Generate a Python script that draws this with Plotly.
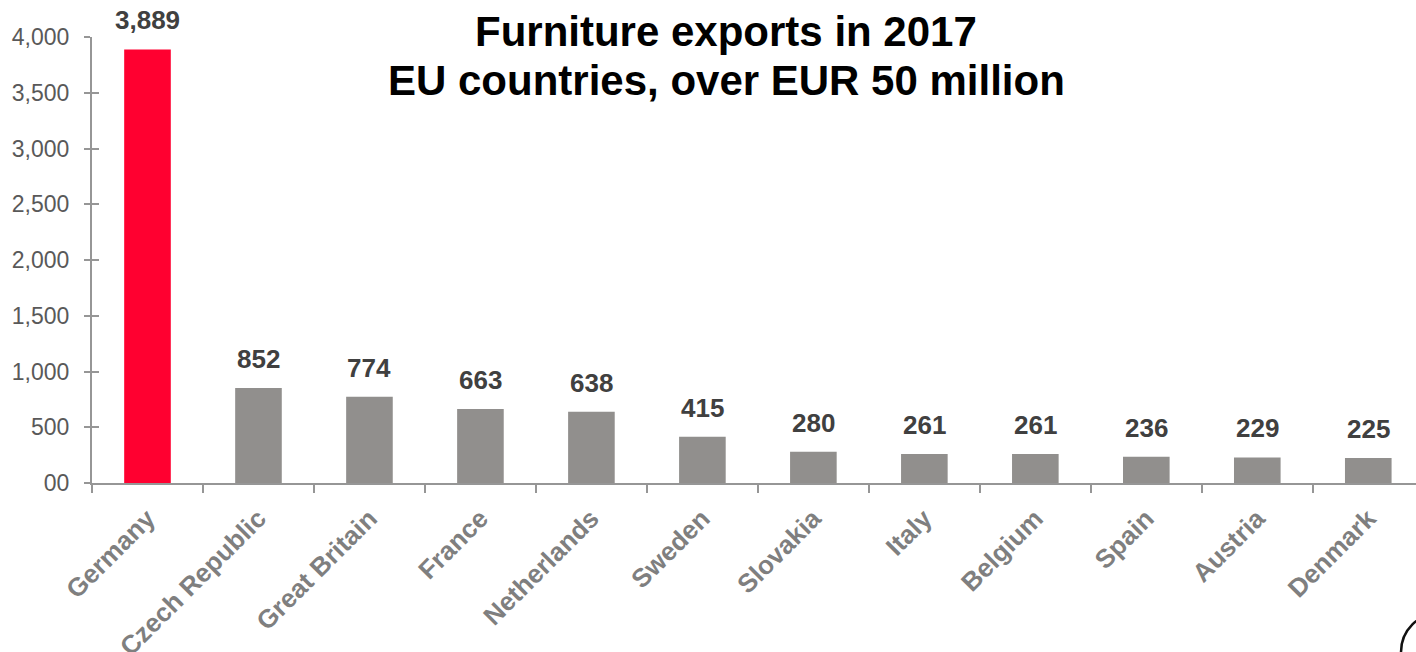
import plotly.graph_objects as go

# Furniture exports in 2017, EU countries above EUR 50 million (EUR million)
countries = ["Germany", "Czech Republic", "Great Britain", "France", "Netherlands",
             "Sweden", "Slovakia", "Italy", "Belgium", "Spain", "Austria", "Denmark"]
exports = [3889, 852, 774, 663, 638, 415, 280, 261, 261, 236, 229, 225]
value_labels = ["3,889", "852", "774", "663", "638", "415", "280", "261", "261", "236", "229", "225"]

y_tick_values = [0, 500, 1000, 1500, 2000, 2500, 3000, 3500, 4000]
y_tick_labels = ["00", "500", "1,000", "1,500", "2,000", "2,500", "3,000", "3,500", "4,000"]

title_lines = ["Furniture exports in 2017", "EU countries, over EUR 50 million"]

FONT = "Liberation Sans, Arial, sans-serif"
AXIS_COLOR = "#969696"
HIGHLIGHT = "#FF0030"
BAR_GRAY = "#918F8D"

bar_colors = [HIGHLIGHT] + [BAR_GRAY] * (len(countries) - 1)

fig = go.Figure()
fig.add_trace(go.Bar(
    x=countries, y=exports, marker=dict(color=bar_colors, line=dict(width=0)),
    width=0.42, hoverinfo="x+y", showlegend=False,
))
# invisible companion trace so the inner tick axis is drawn
fig.add_trace(go.Scatter(
    x=countries, y=exports, yaxis="y2", mode="markers",
    marker=dict(opacity=0), hoverinfo="skip", showlegend=False,
))

for c, v, lab in zip(countries, exports, value_labels):
    fig.add_annotation(
        x=c, y=v, xref="x", yref="y", text=lab, showarrow=False,
        yanchor="bottom", yshift=12,
        font=dict(family=FONT, size=26, color="#404040", weight="bold"),
    )

for i, line in enumerate(title_lines):
    fig.add_annotation(
        x=0.479, y=1, xref="paper", yref="paper", text=f"<b>{line}</b>",
        showarrow=False, xanchor="center", yanchor="middle",
        yshift=(37 - 31) if i == 0 else (37 - 80),
        font=dict(family=FONT, size=42, color="#000000"),
    )

# partial circular emblem in the lower right corner
fig.add_shape(
    type="circle", xref="paper", yref="paper",
    xsizemode="pixel", ysizemode="pixel", xanchor=1, yanchor=0,
    x0=-15, x1=63, y0=-208, y1=-130,
    line=dict(color="#111111", width=2.5),
)

fig.update_layout(
    width=1416, height=652,
    margin=dict(l=92, r=0, t=37, b=169, autoexpand=False),
    paper_bgcolor="white", plot_bgcolor="white",
    bargap=0.58,
    xaxis=dict(
        type="category", range=[-0.5, 11.43], automargin=False,
        showline=True, linecolor=AXIS_COLOR, linewidth=2,
        ticks="outside", tickson="boundaries", ticklen=8, tickwidth=2, tickcolor=AXIS_COLOR,
        tickangle=-45, showgrid=False, zeroline=False, ticklabelstandoff=8,
        tickfont=dict(family=FONT, size=26, color="#7F7F7F", weight="bold"),
    ),
    yaxis=dict(
        range=[0, 4000], tickvals=y_tick_values, ticktext=y_tick_labels, automargin=False,
        showline=True, linecolor=AXIS_COLOR, linewidth=2,
        ticks="outside", ticklen=6, tickwidth=2, tickcolor=AXIS_COLOR,
        showgrid=False, zeroline=False, ticklabelstandoff=10,
        tickfont=dict(family=FONT, size=23, color="#595959"),
    ),
    yaxis2=dict(
        overlaying="y", side="left", range=[0, 4000], tickvals=y_tick_values[1:],
        automargin=False,
        showticklabels=False, showline=False, showgrid=False, zeroline=False,
        ticks="inside", ticklen=7, tickwidth=2, tickcolor=AXIS_COLOR,
    ),
)

fig.write_html("out.html")
